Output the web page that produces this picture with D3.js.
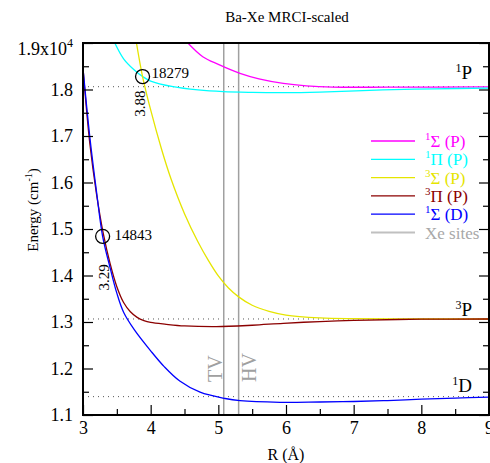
<!DOCTYPE html>
<html>
<head>
<meta charset="utf-8">
<script src="https://cdn.jsdelivr.net/npm/d3@7"></script>
<style>
  body { margin: 0; background: #fff; }
  text { font-family: "Liberation Serif", "Times New Roman", serif; }
</style>
</head>
<body>
<script>
// Potential curves, [R (Å), energy (cm-1)]
const sigmaP = [[4.55,19000],[4.77,18706],[5.0,18540],[5.32,18348],[5.6,18230],[5.96,18133],[6.3,18080],[6.69,18052],[7.5,18050],[9,18058]];
const piP = [[3.47,19000],[3.6,18660],[3.75,18430],[3.88,18279],[4.0,18180],[4.33,18060],[4.7,17990],[5.07,17953],[5.5,17938],[5.96,17933],[6.5,17945],[7.43,17990],[8.2,18015],[9,18030]];
const tripSigmaP = [[3.79,19000],[3.88,18279],[4.0,17560],[4.16,16720],[4.3,16080],[4.5,15330],[4.7,14720],[4.85,14330],[5.0,13990],[5.15,13730],[5.3,13540],[5.5,13360],[5.75,13230],[6.0,13150],[6.5,13090],[7,13072],[8,13065],[9,13065]];
const tripPiP = [[3.0,18456],[3.1,16850],[3.2,15750],[3.3,14900],[3.4,14260],[3.5,13760],[3.6,13420],[3.7,13220],[3.8,13100],[3.9,13030],[4.0,12990],[4.23,12950],[4.5,12915],[4.97,12899],[5.5,12930],[5.96,12972],[6.5,13010],[7,13035],[8,13060],[9,13065]];
const sigmaD = [[3.0,18456],[3.1,16990],[3.2,15800],[3.29,14843],[3.4,14170],[3.5,13620],[3.6,13210],[3.76,12830],[4.0,12380],[4.2,12040],[4.43,11730],[4.73,11490],[5.1,11355],[5.32,11308],[5.91,11273],[6.5,11280],[7,11290],[7.5,11310],[8,11340],[8.5,11365],[9,11385]];

const asymptotes = [18060, 13065, 11395];      // 1P, 3P, 1D
const asymLabels = [["1","P"],["3","P"],["1","D"]];
const xeSites = [5.08, 5.30];
const xeLabels = ["TV", "HV"];
const crossings = [[3.88,18279],[3.29,14843]];

const xTicks = [3,4,5,6,7,8,9];
const yTicks = [11000,12000,13000,14000,15000,16000,17000,18000,19000];

const series = [
  {data: sigmaP, color: "#ff00ff", sup: "1", name: "Σ (P)"},
  {data: piP, color: "#00ffff", sup: "1", name: "Π (P)"},
  {data: tripSigmaP, color: "#e5e500", sup: "3", name: "Σ (P)"},
  {data: tripPiP, color: "#8b0000", sup: "3", name: "Π (P)"},
  {data: sigmaD, color: "#0000ff", sup: "1", name: "Σ (D)"}
];

const W = 490, H = 463;
const L = 83, R = 489, T = 43, B = 415;

const svg = d3.select("body").append("svg")
  .attr("width", W).attr("height", H);

const x = d3.scaleLinear().domain([3, 9]).range([L, R]);
const y = d3.scaleLinear().domain([11000, 19000]).range([B, T]);

svg.append("clipPath").attr("id", "plot")
  .append("rect").attr("x", L).attr("y", T).attr("width", R - L).attr("height", B - T);

// title
svg.append("text")
  .attr("x", 287).attr("y", 22)
  .attr("text-anchor", "middle")
  .style("font-size", "15px")
  .text("Ba-Xe MRCI-scaled");

// dotted atomic asymptotes
svg.selectAll(".asym").data(asymptotes).enter().append("line")
  .attr("x1", L).attr("x2", R)
  .attr("y1", d => y(d)).attr("y2", d => y(d))
  .attr("stroke", "#555").attr("stroke-width", 1)
  .attr("stroke-dasharray", "1,4");

// Xe site lines
svg.selectAll(".xe").data(xeSites).enter().append("line")
  .attr("x1", d => x(d)).attr("x2", d => x(d))
  .attr("y1", T).attr("y2", B)
  .attr("stroke", "#a0a0a0").attr("stroke-width", 1.5);

// curves
const line = d3.line()
  .x(d => x(d[0])).y(d => y(d[1]))
  .curve(d3.curveCatmullRom.alpha(0.5));

const g = svg.append("g").attr("clip-path", "url(#plot)");
series.forEach(s => {
  g.append("path")
    .attr("d", line(s.data))
    .attr("fill", "none")
    .attr("stroke", s.color)
    .attr("stroke-width", 1.3);
});

// Xe site labels
svg.selectAll(".xel").data(xeSites).enter().append("text")
  .attr("transform", (d, i) => `translate(${x(d) + (i === 0 ? -2 : 17)},382) rotate(-90)`)
  .attr("fill", "#a0a0a0")
  .style("font-size", "20px")
  .text((d, i) => xeLabels[i]);

// crossing markers
const crossDx = [2, 6], crossDy = [14, 28];
svg.selectAll(".cross").data(crossings).enter().append("circle")
  .attr("cx", d => x(d[0])).attr("cy", d => y(d[1]))
  .attr("r", 7)
  .attr("fill", "none").attr("stroke", "#000").attr("stroke-width", 1.3);

svg.selectAll(".crossE").data(crossings).enter().append("text")
  .attr("x", (d, i) => x(d[0]) + (i === 0 ? 9 : 12)).attr("y", (d, i) => y(d[1]) + (i === 0 ? 1 : 4))
  .style("font-size", "15px")
  .text(d => d[1]);

svg.selectAll(".crossR").data(crossings).enter().append("text")
  .attr("transform", (d, i) => `translate(${x(d[0]) + crossDx[i]},${y(d[1]) + crossDy[i]}) rotate(-90)`)
  .attr("text-anchor", "end")
  .style("font-size", "15px")
  .text(d => d[0].toFixed(2));

// asymptote labels
const asymDy = [8, 3, 5];
svg.selectAll(".asl").data(asymptotes).enter().append("text")
  .attr("x", 472).attr("y", (d, i) => y(d) - asymDy[i])
  .attr("text-anchor", "end")
  .style("font-size", "19px")
  .each(function(d, i) {
    const t = d3.select(this);
    t.append("tspan").attr("dy", -7).style("font-size", "12px").text(asymLabels[i][0]);
    t.append("tspan").attr("dy", 7).text(asymLabels[i][1]);
  });

// axes
svg.append("g").attr("transform", `translate(0,${B})`)
  .call(d3.axisBottom(x).tickValues(xTicks).tickSize(-10).tickPadding(6).tickFormat(d3.format("d")));
svg.append("g").attr("transform", `translate(0,${B})`)
  .call(d3.axisBottom(x).tickValues(d3.range(3.5, 9, 1)).tickSize(-6).tickFormat(""));
svg.append("g").attr("transform", `translate(${L},0)`)
  .call(d3.axisLeft(y).tickValues(d3.range(11500, 19000, 1000)).tickSize(-6).tickFormat(""));
svg.append("g").attr("transform", `translate(${R},0)`)
  .call(d3.axisRight(y).tickValues(yTicks).tickSize(-10).tickFormat(""));
svg.append("g").attr("transform", `translate(${R},0)`)
  .call(d3.axisRight(y).tickValues(d3.range(11500, 19000, 1000)).tickSize(-6).tickFormat(""));
svg.append("g").attr("transform", `translate(${L},0)`)
  .call(d3.axisLeft(y).tickValues(yTicks).tickSize(-10).tickPadding(10)
    .tickFormat(d => d === 19000 ? "" : (d / 10000).toFixed(1)));

svg.selectAll(".domain").attr("stroke", "none");
svg.selectAll(".tick line").attr("stroke", "#000").attr("stroke-width", 1.2);
svg.selectAll(".tick text")
  .style("font-family", "'Liberation Serif', 'Times New Roman', serif")
  .style("font-size", "18px").attr("fill", "#000");

// top label 1.9x10^4
const topLbl = svg.append("text")
  .attr("x", 73).attr("y", 55)
  .attr("text-anchor", "end")
  .style("font-size", "18px");
topLbl.append("tspan").text("1.9x10");
topLbl.append("tspan").attr("dy", -8).style("font-size", "12px").text("4");

// frame
svg.append("rect")
  .attr("x", L).attr("y", T).attr("width", R - L).attr("height", B - T)
  .attr("fill", "none").attr("stroke", "#000").attr("stroke-width", 2);

// axis titles
svg.append("text")
  .attr("x", 286).attr("y", 460)
  .attr("text-anchor", "middle")
  .style("font-size", "16px")
  .text("R (Å)");

const yl = svg.append("text")
  .attr("transform", "translate(38,210) rotate(-90)")
  .attr("text-anchor", "middle")
  .style("font-size", "15px");
yl.append("tspan").text("Energy (cm");
yl.append("tspan").attr("dy", -6).style("font-size", "10px").text("-1");
yl.append("tspan").attr("dy", 6).text(")");

// legend
const legItems = series.map(s => ({color: s.color, sup: s.sup, name: s.name}))
  .concat([{color: "#c0c0c0", sup: "", name: "Xe sites"}]);
const leg = svg.append("g");
legItems.forEach((d, i) => {
  const ly = 141 + i * 18.3;
  leg.append("line")
    .attr("x1", 371).attr("x2", 415).attr("y1", ly).attr("y2", ly)
    .attr("stroke", d.color).attr("stroke-width", d.sup ? 1.3 : 2);
  const t = leg.append("text")
    .attr("x", 425).attr("y", ly + 6)
    .attr("fill", d.sup ? d.color : "#a8a8a8")
    .style("font-size", "17px");
  if (d.sup) {
    t.append("tspan").attr("dy", -7).style("font-size", "11px").text(d.sup);
    t.append("tspan").attr("dy", 7).text(d.name);
  } else {
    t.text(d.name);
  }
});
</script>
</body>
</html>
